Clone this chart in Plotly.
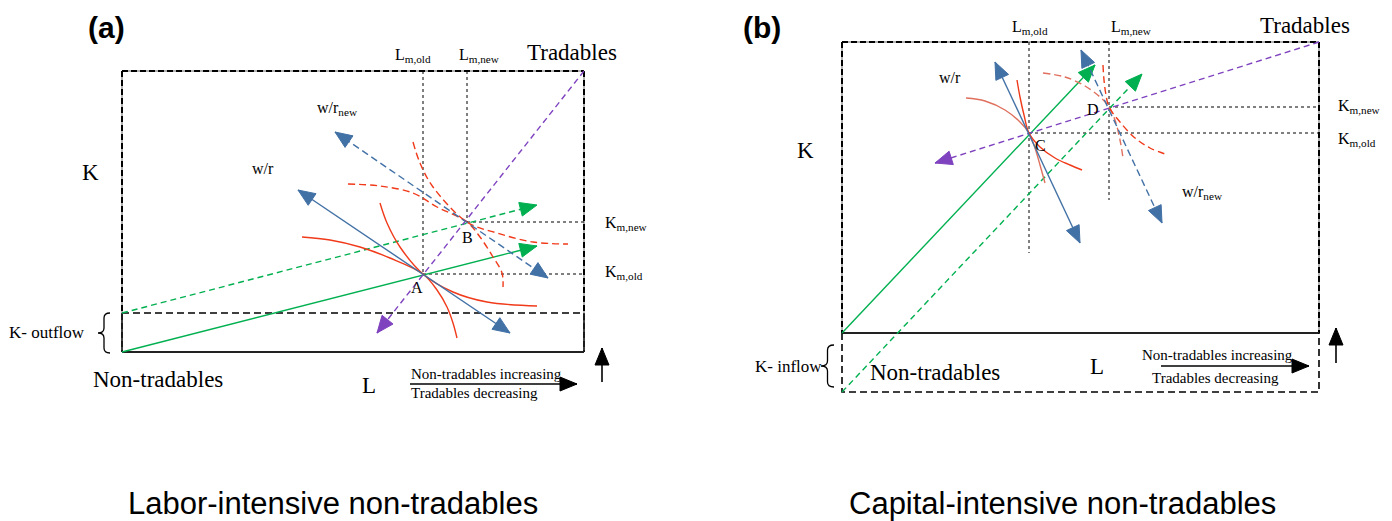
import numpy as np
import plotly.graph_objects as go

W, H = 1392, 521
PAGE_MARGIN = 8  # default body margin of the html page

# ---------------- colours ----------------
RED = "#f03a1a"
SALMON = "#e0705e"
BLUE = "#4271a6"
GREEN = "#00b050"
PURPLE = "#7f43bf"
SERIF = "Liberation Serif"
SANS = "Liberation Sans"

# ---------------- panel (a): labor-intensive ----------------
a_box_x = [122, 584]
a_box_y = [71, 352]
a_shift_y = 313
a_A = [423, 274]
a_B = [467, 222]
a_green_solid = [[122, 352], [537, 246]]
a_green_dash = [[122, 313], [537, 205]]
a_purple = [[584, 71], [377, 333]]
a_blue_solid = [[298, 190], [510, 333]]
a_blue_dash = [[335, 132], [548, 278]]
a_isoT_x = [302, 330, 360, 390, 423, 437, 447, 453, 457]
a_isoT_y = [237, 240, 247, 258, 274, 290, 307, 323, 338]
a_isoN_x = [380, 387, 400, 423, 453, 487, 537]
a_isoN_y = [203, 223, 247, 274, 292, 302, 306]
a_isoT2_x = [348, 380, 413, 437, 467, 480, 493, 502, 503]
a_isoT2_y = [184, 186, 193, 207, 222, 237, 257, 273, 287]
a_isoN2_x = [413, 420, 433, 467, 497, 533, 568]
a_isoN2_y = [142, 163, 187, 222, 233, 242, 244]

# ---------------- panel (b): capital-intensive ----------------
b_box_x = [842, 1319]
b_box_y = [42, 333]
b_shift_y = 392
b_C = [1029, 133]
b_D = [1109, 107]
b_Lold_bottom = 253
b_Lnew_bottom = 200
b_green_solid = [[842, 333], [1095, 65]]
b_green_dash = [[842, 392], [1142, 74]]
b_purple = [[1319, 42], [935, 163]]
b_blue_solid = [[995, 62], [1080, 243]]
b_blue_dash = [[1081, 50], [1162, 223]]
b_isoT_x = [966, 985, 1005, 1020, 1029, 1035, 1040, 1045]
b_isoT_y = [98, 101, 110, 122, 133, 148, 165, 183]
b_isoN_x = [1017, 1020, 1024, 1029, 1040, 1055, 1070, 1082]
b_isoN_y = [80, 97, 115, 133, 147, 158, 165, 170]
b_isoT2_x = [1043, 1065, 1085, 1100, 1109, 1115, 1120, 1123]
b_isoT2_y = [73, 77, 86, 97, 107, 120, 140, 158]
b_isoN2_x = [1103, 1104, 1106, 1109, 1120, 1135, 1150, 1168]
b_isoN2_y = [65, 80, 95, 107, 122, 138, 148, 155]

fig = go.Figure()


def line(xs, ys, color, width=1.4, dash="solid", shape="linear"):
    fig.add_trace(go.Scatter(x=xs, y=ys, mode="lines", hoverinfo="skip",
                             line=dict(color=color, width=width, dash=dash, shape=shape)))


def head(tip, frm, color, L=17, Wd=14):
    t = np.array(tip, float)
    f = np.array(frm, float)
    u = (t - f) / np.linalg.norm(t - f)
    n = np.array([-u[1], u[0]])
    b = t - L * u
    p1 = b + Wd / 2 * n
    p2 = b - Wd / 2 * n
    fig.add_trace(go.Scatter(x=[t[0], p1[0], p2[0], t[0]], y=[t[1], p1[1], p2[1], t[1]],
                             mode="lines", fill="toself", fillcolor=color, hoverinfo="skip",
                             line=dict(color=color, width=1)))


def arrow(seg, color, dash="solid", both=False, width=1.4):
    (x0, y0), (x1, y1) = seg
    line([x0, x1], [y0, y1], color, width, dash)
    head([x1, y1], [x0, y0], color)
    if both:
        head([x0, y0], [x1, y1], color)


def box_edges(bx, by, shift_y, outflow):
    x0, x1 = bx
    y0, y1 = by
    for xs, ys in ([[x0, x1], [y0, y0]], [[x0, x0], [y0, y1]], [[x1, x1], [y0, y1]]):
        line(xs, ys, "#666666", 1)
        line(xs, ys, "black", 2, "6px,3px")
    line([x0, x1], [y1, y1], "#222222", 1.8)
    if outflow:
        line([x0, x1], [shift_y, shift_y], "black", 1.6, "7px,4px")
        line([x0, x0], [shift_y, y1], "#222222", 1.6)
        line([x1, x1], [shift_y, y1], "#222222", 1.6)
    else:
        line([x0, x0, x1, x1], [y1, shift_y, shift_y, y1], "black", 1.6, "7px,4px")


# ---------- draw panel (a) ----------
box_edges(a_box_x, a_box_y, a_shift_y, True)
line([a_A[0], a_A[0]], [a_box_y[0], a_A[1]], "black", 1, "dot")
line([a_B[0], a_B[0]], [a_box_y[0], a_B[1]], "black", 1, "dot")
line([a_A[0], a_box_x[1]], [a_A[1], a_A[1]], "black", 1, "dot")
line([a_B[0], a_box_x[1]], [a_B[1], a_B[1]], "black", 1, "dot")
arrow(a_green_solid, GREEN)
arrow(a_green_dash, GREEN, "6px,4px")
arrow(a_purple, PURPLE, "6px,4px")
line(a_isoT_x, a_isoT_y, RED, 1.4, shape="spline")
line(a_isoN_x, a_isoN_y, RED, 1.4, shape="spline")
line(a_isoT2_x, a_isoT2_y, RED, 1.4, "7px,4px", "spline")
line(a_isoN2_x, a_isoN2_y, RED, 1.4, "7px,4px", "spline")
arrow(a_blue_solid, BLUE, both=True)
arrow(a_blue_dash, BLUE, "7px,4px", both=True)

# ---------- draw panel (b) ----------
box_edges(b_box_x, b_box_y, b_shift_y, False)
line([b_C[0], b_C[0]], [b_box_y[0], b_Lold_bottom], "black", 1, "dot")
line([b_D[0], b_D[0]], [b_box_y[0], b_Lnew_bottom], "black", 1, "dot")
line([b_C[0], b_box_x[1]], [b_C[1], b_C[1]], "black", 1, "dot")
line([b_D[0], b_box_x[1]], [b_D[1], b_D[1]], "black", 1, "dot")
arrow(b_green_solid, GREEN)
arrow(b_green_dash, GREEN, "6px,4px")
arrow(b_purple, PURPLE, "6px,4px")
line(b_isoT_x, b_isoT_y, SALMON, 1.4, shape="spline")
line(b_isoN_x, b_isoN_y, RED, 1.4, shape="spline")
line(b_isoT2_x, b_isoT2_y, SALMON, 1.4, "7px,4px", "spline")
line(b_isoN2_x, b_isoN2_y, RED, 1.4, "7px,4px", "spline")
arrow(b_blue_solid, BLUE, both=True)
arrow(b_blue_dash, BLUE, "7px,4px", both=True)

# ---------- direction arrows (black) ----------
dir_arrows = [
    [[410, 384], [577, 384]], [[602, 382], [602, 348]],
    [[1161, 366], [1309, 366]], [[1336, 363], [1336, 328]],
]
for (p0, p1) in dir_arrows:
    line([p0[0], p1[0]], [p0[1], p1[1]], "black", 1.6)
    head(p1, p0, "black", 17, 14)

# ---------- braces ----------
braces = [[110, 313, 353, 12], [834, 345, 387, 13]]
shapes = []
for x0, yt, yb, w in braces:
    xm = x0 - w / 2
    xt = x0 - w
    ym = (yt + yb) / 2
    r = 5
    path = (f"M {x0},{yt} Q {xm},{yt} {xm},{yt + r} L {xm},{ym - r} Q {xm},{ym} {xt},{ym} "
            f"Q {xm},{ym} {xm},{ym + r} L {xm},{yb - r} Q {xm},{yb} {x0},{yb}")
    shapes.append(dict(type="path", path=path, xref="x", yref="y",
                       line=dict(color="black", width=1.3)))

# ---------- text ----------
texts = [
    ("<b>(a)</b>", 106, 27, 30, SANS, "center"),
    ("L<sub>m,old</sub>", 413, 55, 16, SERIF, "center"),
    ("L<sub>m,new</sub>", 479, 55, 16, SERIF, "center"),
    ("Tradables", 572, 52, 23, SERIF, "center"),
    ("w/r<sub>new</sub>", 337, 108, 16, SERIF, "center"),
    ("w/r", 263, 168, 16, SERIF, "center"),
    ("K", 90, 172, 23, SERIF, "center"),
    ("K<sub>m,new</sub>", 603, 223, 16, SERIF, "left"),
    ("K<sub>m,old</sub>", 603, 272, 16, SERIF, "left"),
    ("A", 417, 287, 16, SERIF, "center"),
    ("B", 467, 237, 16, SERIF, "center"),
    ("K- outflow", 47, 332, 17, SERIF, "center"),
    ("Non-tradables", 158, 379, 23, SERIF, "center"),
    ("L", 369, 385, 23, SERIF, "center"),
    ("Non-tradables increasing", 486, 374, 15, SERIF, "center"),
    ("Tradables decreasing", 474, 393, 15, SERIF, "center"),
    ("Labor-intensive non-tradables", 333, 503, 31, SANS, "center"),
    ("<b>(b)</b>", 762, 27, 30, SANS, "center"),
    ("L<sub>m,old</sub>", 1030, 27, 16, SERIF, "center"),
    ("L<sub>m,new</sub>", 1131, 27, 16, SERIF, "center"),
    ("Tradables", 1305, 25, 23, SERIF, "center"),
    ("K", 805, 150, 23, SERIF, "center"),
    ("w/r", 950, 77, 16, SERIF, "center"),
    ("w/r<sub>new</sub>", 1180, 192, 16, SERIF, "left"),
    ("K<sub>m,new</sub>", 1336, 106, 16, SERIF, "left"),
    ("K<sub>m,old</sub>", 1336, 139, 16, SERIF, "left"),
    ("C", 1040, 145, 16, SERIF, "center"),
    ("D", 1093, 109, 16, SERIF, "center"),
    ("K- inflow", 788, 366, 17, SERIF, "center"),
    ("Non-tradables", 935, 372, 23, SERIF, "center"),
    ("L", 1097, 366, 23, SERIF, "center"),
    ("Non-tradables increasing", 1217, 355, 15, SERIF, "center"),
    ("Tradables decreasing", 1215, 378, 15, SERIF, "center"),
    ("Capital-intensive non-tradables", 1062, 503, 31, SANS, "center"),
]
annotations = [dict(text=t, x=x, y=y, xref="x", yref="y", showarrow=False,
                    xanchor=anc, yanchor="middle",
                    font=dict(family=fam, size=s, color="black"))
               for t, x, y, s, fam, anc in texts]

fig.update_layout(
    width=W - PAGE_MARGIN, height=H - PAGE_MARGIN,
    margin=dict(l=0, r=0, t=0, b=0, pad=0),
    paper_bgcolor="white", plot_bgcolor="white", showlegend=False,
    xaxis=dict(range=[PAGE_MARGIN, W], visible=False, fixedrange=True),
    yaxis=dict(range=[H, PAGE_MARGIN], visible=False, fixedrange=True),
    shapes=shapes, annotations=annotations,
)
fig.write_html("out.html")
